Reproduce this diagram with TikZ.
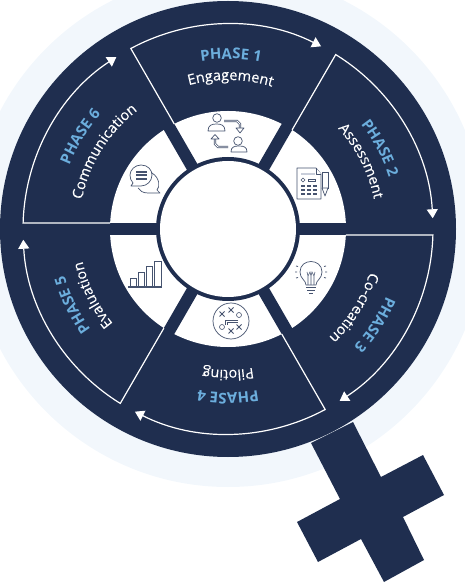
\documentclass[tikz,border=0pt]{standalone}
\usepackage{fontspec}
\setmainfont{Open Sans}
\newfontfamily\namefont[FakeBold=0.25]{Open Sans}
\usetikzlibrary{arrows.meta,decorations.text}
\definecolor{navy}{HTML}{1F2E4F}
\definecolor{pale}{HTML}{F2F7FC}
\definecolor{sky}{HTML}{6CAEDD}
\definecolor{ink}{HTML}{46536F}
\definecolor{soft}{HTML}{C9CEDA}
\tikzset{
  flow/.style={draw=white,line width=1.2bp,line join=miter,-{Triangle[length=9bp,width=11bp,fill=white]}},
  bar/.style={draw=navy,line width=12bp},
  ic/.style={draw=ink,line width=.7bp,fill=white,line join=round},
  icb/.style={draw=ink,line width=.7bp,fill=soft},
  phasetext/.style={decorate,decoration={text along path,text align=center,text color=sky,
     text format delimiters={|}{|},text={|\bfseries\fontsize{15}{15}\selectfont|#1}}},
  nametext/.style={decorate,decoration={text along path,text align=center,text color=white,
     text format delimiters={|}{|},text={|\namefont\fontsize{14.5}{14.5}\selectfont|#1}}}
}
\begin{document}
\begin{tikzpicture}[x=1bp,y=1bp]
\useasboundingbox (-228,229) rectangle (237,-356);
\clip (-228,229) rectangle (237,-356);
% pale halo
\fill[pale] (0,-1) circle[radius=257];
% main disc and female-symbol stem
\fill[navy] (0,0) circle[radius=228];
\fill[navy] (83,-214) -- (112,-270) -- (69,-293) -- (90,-333) -- (133,-310) -- (156,-353) -- (196,-331) -- (175,-288) -- (216,-266) -- (195,-226) -- (153,-248) -- (125,-193) -- cycle;
% white ring with bars
\fill[white] (0,0) circle[radius=118];
\draw[bar] (0:122) -- (180:122);
\draw[bar] (60:122) -- (240:122);
\draw[bar] (120:122) -- (300:122);
\fill[navy] (0,0) circle[radius=72];
\fill[white] (0,0) circle[radius=68];
% flow outlines
\foreach \b in {120,60,0,-60,-120,180}{
  \draw[flow] (\b-2.9:118) -- (\b-1.7:205) arc[start angle=\b-1.7,end angle=\b-57,radius=205];
}
% texts
\path[phasetext={PHASE 1}] (118:170) arc[start angle=118,end angle=60,radius=170];
\path[nametext={Engagement}] (118:149) arc[start angle=118,end angle=60,radius=149];
\path[phasetext={PHASE 2}] (58:169) arc[start angle=58,end angle=-2,radius=169];
\path[nametext={Assessment}] (58:149) arc[start angle=58,end angle=-4,radius=149];
\path[phasetext={PHASE 3}] (-3:172) arc[start angle=-3,end angle=-63,radius=172];
\path[nametext={Co-creation}] (-2:148) arc[start angle=-2,end angle=-62,radius=148];
\path[phasetext={PHASE 4}] (-61:164) arc[start angle=-61,end angle=-119,radius=164];
\path[nametext={Piloting}] (-61:141) arc[start angle=-61,end angle=-119,radius=141];
\path[phasetext={PHASE 5}] (-125:170) arc[start angle=-125,end angle=-183,radius=170];
\path[nametext={Evaluation}] (-125:149) arc[start angle=-125,end angle=-183,radius=149];
\path[phasetext={PHASE 6}] (177:171) arc[start angle=177,end angle=119,radius=171];
\path[nametext={Communication}] (177:149) arc[start angle=177,end angle=119,radius=149];
% icon 1: people and arrows
\begin{scope}[shift={(-228,229)},y=-1bp]
\draw[ic] (217,118) circle[radius=4.3];
\draw[ic] (208,131) .. controls (208,125) and (212,124) .. (216.5,124) .. controls (221,124) and (225,125) .. (225,131) -- cycle;
\draw[ic] (238,141) circle[radius=4.3];
\draw[ic] (231,152) .. controls (231,147) and (234,146) .. (239,146) .. controls (244,146) and (247,147) .. (247,152) -- cycle;
\draw[draw=ink,line width=2.2bp] (224,121) -- (237,121) -- (240,124) -- (240,129);
\draw[draw=white,line width=.9bp] (224,121) -- (237,121) -- (240,124) -- (240,129);
\draw[ic] (236,128) -- (244,128) -- (240,133) -- cycle;
\draw[draw=ink,line width=2.2bp] (228,147) -- (218,147) -- (215,144) -- (215,138);
\draw[draw=white,line width=.9bp] (228,147) -- (218,147) -- (215,144) -- (215,138);
\draw[ic] (211,139) -- (219,139) -- (215,134.5) -- cycle;
% icon 2: worksheet and pencil
\draw[ic] (297,168) -- (316,168) -- (321,174) -- (321,199) -- (297,199) -- cycle;
\draw[ic] (316,168) -- (316,174) -- (321,174);
\fill[soft] (301,173) rectangle (315,175);
\draw[ink,line width=.5bp] (303,178) -- (305,180) -- (303,182) -- (301,180) -- cycle;
\draw[ink,line width=.5bp] (308,179) rectangle (315,181);
\foreach \x in {301,307,313}{\foreach \y in {185,189,193}{
  \fill[ink] (\x,\y) rectangle ++(4,2);}}
\draw[icb,fill=white] (322,172) rectangle (328,188);
\draw[ic] (322,188) -- (328,188) -- (325,196) -- cycle;
% icon 3: light bulb
\draw[ic] (306,285) .. controls (306,280) and (300,279) .. (300,272) .. controls (300,258) and (322,258) .. (322,272) .. controls (322,279) and (316,280) .. (316,285) -- cycle;
\draw[ink,line width=.6bp] (308,285) -- (308,276) (314,285) -- (314,276) (311,285) -- (311,276) (307,272) -- (308,276) -- (310,272) -- (311,276) -- (312,272) -- (314,276) -- (315,272);
\draw[ink,line width=.8bp] (306,287) -- (316,287) (307,290) -- (315,290) (309,293) -- (313,293);
\draw[ink,line width=.8bp] (296,266) -- (298,266.5) (295,272) -- (297,272) (296,278) -- (298,277.5);
\draw[ink,line width=.8bp] (324,266.5) -- (326,266) (325,272) -- (327,272) (324,277.5) -- (326,278);
% icon 4: play diagram
\draw[ic] (231,321) circle[radius=18];
\foreach \p in {(222,314),(231,310),(231,331),(239,327)}{
  \draw[ink,line width=.9bp] \p +(-2.5,-2.5) -- +(2.5,2.5) \p +(-2.5,2.5) -- +(2.5,-2.5);}
\draw[ink,line width=.6bp] (239,315) circle[radius=2.5] (222,327) circle[radius=2.5];
\draw[ink,line width=.6bp] (238,320) -- (225,320) -- (225,325);
\draw[ink,line width=.6bp] (238,322) -- (227,322) -- (227,325);
% icon 5: bar chart
\draw[icb,fill=white] (130,287) rectangle (136,278);
\draw[icb,fill=white] (138,287) rectangle (144.5,272);
\draw[icb,fill=white] (146,287) rectangle (152.5,266);
\draw[icb,fill=white] (154,287) rectangle (161,261);
\draw[ink,line width=1.1bp] (128,287) -- (162,287);
% icon 6: chat bubbles
\draw[ic] (152,173) .. controls (160,178) and (160,187) .. (157,190) -- (160,193) -- (148,193) .. controls (143,193) and (140,191) .. (138,188);
\draw[ic] (141,165) .. controls (148,165) and (152,170) .. (152,175) .. controls (152,181) and (147,186) .. (141,186) -- (131,186) -- (133,183) .. controls (131,181) and (130,178) .. (130,175) .. controls (130,170) and (135,165) .. (141,165) -- cycle;
\foreach \y in {171,174.5,178}{\fill[ink] (136,\y) rectangle (147,\y+2);}
\end{scope}
\end{tikzpicture}
\end{document}
